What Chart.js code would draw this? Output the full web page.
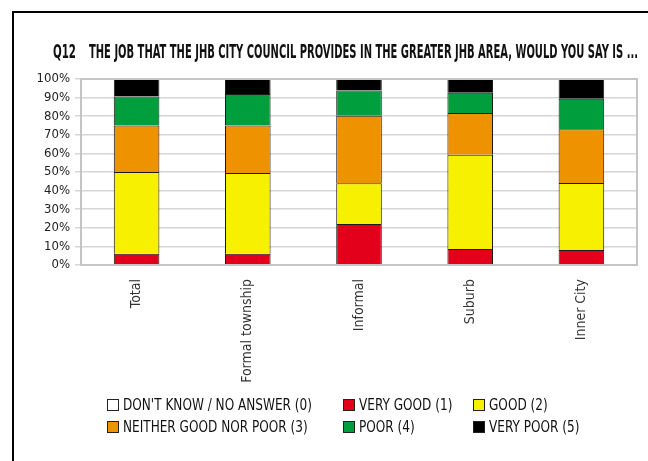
<!DOCTYPE html>
<html>
<head>
<meta charset="utf-8">
<script src="https://cdn.jsdelivr.net/npm/chart.js@4"></script>
<style>
  html, body { margin: 0; padding: 0; background: #fff; }
  #wrap { width: 648px; height: 461px; }
</style>
</head>
<body>
<div id="wrap"><canvas id="q12Chart" width="648" height="461"></canvas></div>
<script>
var categories = ["Total", "Formal township", "Informal", "Suburb", "Inner City"];
var dontKnow  = [0, 0, 0, 0, 0];
var veryGood  = [6, 6, 22, 8.6, 8.1];
var good      = [44, 43.4, 22, 50.7, 36];
var neither   = [25, 25.6, 36.2, 22.4, 28.9];
var poor      = [15.6, 17, 13.6, 10.9, 16.4];
var veryPoor  = [9.4, 8, 6.2, 7.4, 10.6];
var seriesNames = ["DON'T KNOW / NO ANSWER (0)", "VERY GOOD (1)", "GOOD (2)",
  "NEITHER GOOD NOR POOR (3)", "POOR (4)", "VERY POOR (5)"];
var seriesColors = ["#ffffff", "#e2001a", "#f7f000", "#ee9200", "#009e3d", "#000000"];
var yTicks = [0, 10, 20, 30, 40, 50, 60, 70, 80, 90, 100];

var titleNo = "Q12";
var titleText = "THE JOB THAT THE JHB CITY COUNCIL PROVIDES IN THE GREATER JHB AREA, WOULD YOU SAY IS ...";

var narrow = "'Liberation Sans Narrow', 'DejaVu Sans Condensed', 'Arial Narrow', sans-serif";

//draw text squeezed horizontally (no narrow enough font installed)
function squeezed(ctx, text, x, y, squeeze) {
  var w = ctx.measureText(text).width;
  ctx.fillText(text, x, y, w * squeeze);
}

//page frame, title, plot border and the legend
var decorPlugin = {
  id: "decor",
  beforeDraw: function(chart) {
    var ctx = chart.ctx;
    ctx.save();
    ctx.fillStyle = "#fff";
    ctx.fillRect(0, 0, chart.width, chart.height);
    ctx.strokeStyle = "#000";
    ctx.lineWidth = 2;
    ctx.beginPath();
    ctx.moveTo(13, chart.height);
    ctx.lineTo(13, 12);
    ctx.lineTo(chart.width, 12);
    ctx.stroke();

    ctx.fillStyle = "#111";
    ctx.textBaseline = "alphabetic";
    ctx.font = "bold 19px " + narrow;
    ctx.fillText(titleNo, 53, 58, 23);
    ctx.fillText(titleText, 89, 58, 549);
    ctx.restore();
  },
  afterDraw: function(chart) {
    var ctx = chart.ctx;
    var a = chart.chartArea;
    ctx.save();
    ctx.strokeStyle = "#c4c4c4";
    ctx.lineWidth = 2;
    ctx.strokeRect(a.left, a.top, a.right - a.left, a.bottom - a.top);

    //legend, 3 columns x 2 rows
    var cols = [107, 343, 473];
    var rows = [405, 427];
    ctx.font = "16px " + narrow;
    ctx.textBaseline = "middle";
    chart.data.datasets.forEach(function(ds, i) {
      var x = cols[i % 3];
      var y = rows[Math.floor(i / 3)];
      ctx.fillStyle = ds.backgroundColor;
      ctx.fillRect(x, y - 6, 12, 12);
      ctx.strokeStyle = "#222";
      ctx.lineWidth = 1;
      ctx.strokeRect(x + 0.5, y - 5.5, 11, 11);
      ctx.fillStyle = "#111";
      squeezed(ctx, ds.label, x + 16, y + 1, 0.84);
    });
    ctx.restore();
  }
};

var seriesData = [dontKnow, veryGood, good, neither, poor, veryPoor];
var datasets = [];
for (var i = 0; i < seriesData.length; i++) {
  datasets.push({
    label: seriesNames[i],
    data: seriesData[i],
    backgroundColor: seriesColors[i],
    borderColor: "#1a1a1a",
    borderWidth: i == 0 ? 0 : 1,
    barPercentage: 0.41,
    categoryPercentage: 1
  });
}

var ctx1 = document.getElementById("q12Chart");
var chart1 = new Chart(ctx1, {
  type: "bar",
  data: { labels: categories, datasets: datasets },
  options: {
    responsive: false,
    animation: false,
    layout: { padding: { left: 0, top: 79, right: 11, bottom: 70 } },
    plugins: {
      legend: { display: false },
      tooltip: { enabled: false }
    },
    scales: {
      x: {
        stacked: true,
        grid: { display: false },
        border: { color: "#c4c4c4", width: 2 },
        ticks: {
          minRotation: 90,
          maxRotation: 90,
          padding: 6,
          color: "#333",
          font: { family: narrow, size: 14 }
        },
        afterFit: function(scale) { scale.height = 126; }
      },
      y: {
        stacked: true,
        min: 0,
        max: 100,
        afterBuildTicks: function(scale) {
          scale.ticks = yTicks.map(function(v) { return { value: v }; });
        },
        grid: { color: "#d6d6d6", lineWidth: 1.5, tickLength: 6 },
        border: { color: "#c4c4c4", width: 2 },
        ticks: {
          autoSkip: false,
          padding: 5,
          color: "#222",
          font: { family: narrow, size: 13 },
          callback: function(v) { return v + "%"; }
        },
        afterFit: function(scale) { scale.width = 81; }
      }
    }
  },
  plugins: [decorPlugin]
});
</script>
</body>
</html>
